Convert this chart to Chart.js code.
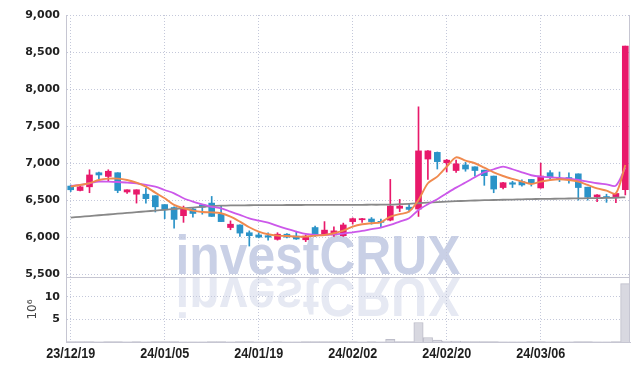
<!DOCTYPE html>
<html lang="ko">
<head>
  <meta charset="UTF-8" />
  <title>investCRUX candle chart</title>
  <script src="https://cdn.jsdelivr.net/npm/chart.js"></script>
  <style>
    body { margin: 0; background: #fff; }
    canvas { display: block; }
  </style>
</head>
<body>
  <canvas id="stockChart" width="639" height="371"></canvas>

  <script>
    // trading days, YY/MM/DD
    const dates = [
      '23/12/19', '23/12/20', '23/12/21', '23/12/22', '23/12/26', '23/12/27', '23/12/28',
      '24/01/02', '24/01/03', '24/01/04', '24/01/05', '24/01/08', '24/01/09', '24/01/10',
      '24/01/11', '24/01/12', '24/01/15', '24/01/16', '24/01/17', '24/01/18', '24/01/19',
      '24/01/22', '24/01/23', '24/01/24', '24/01/25', '24/01/26', '24/01/29', '24/01/30',
      '24/01/31', '24/02/01', '24/02/02', '24/02/05', '24/02/06', '24/02/07', '24/02/08',
      '24/02/13', '24/02/14', '24/02/15', '24/02/16', '24/02/19', '24/02/20', '24/02/21',
      '24/02/22', '24/02/23', '24/02/26', '24/02/27', '24/02/28', '24/02/29', '24/03/04',
      '24/03/05', '24/03/06', '24/03/07', '24/03/08', '24/03/11', '24/03/12', '24/03/13',
      '24/03/14', '24/03/15', '24/03/18', '24/03/19'
    ];
    const dateTicks = ['23/12/19', '24/01/05', '24/01/19', '24/02/02', '24/02/20', '24/03/06'];

    const opens = [
      6690, 6630, 6680, 6870, 6820, 6870, 6610, 6580, 6580, 6560,
      6440, 6400, 6290, 6380, 6435, 6460, 6310, 6130, 6165, 6060,
      6030, 6020, 5970, 6040, 6015, 5965, 6130, 6040, 6030, 6020,
      6210, 6235, 6245, 6210, 6230, 6390, 6405, 6380, 7055, 7145,
      7005, 6900, 6975, 6950, 6905, 6825, 6670, 6735, 6750, 6780,
      6665, 6870, 6795, 6805, 6855, 6675, 6545, 6545, 6535, 6640
    ];
    const highs = [
      6705, 6690, 6910, 6880, 6910, 6870, 6640, 6640, 6660, 6560,
      6440, 6410, 6420, 6390, 6440, 6550, 6420, 6220, 6165, 6085,
      6060, 6060, 6060, 6050, 6080, 6030, 6150, 6210, 6140, 6190,
      6260, 6255, 6265, 6245, 6780, 6510, 6450, 7760, 7170, 7150,
      7050, 7040, 7010, 6950, 6905, 6825, 6740, 6755, 6775, 6780,
      7000, 6900, 6880, 6870, 6855, 6675, 6575, 6580, 6595, 8580
    ];
    const lows = [
      6615, 6625, 6600, 6790, 6750, 6600, 6590, 6460, 6460, 6340,
      6250, 6120, 6200, 6270, 6310, 6280, 6210, 6100, 6010, 5880,
      5990, 5960, 5960, 5990, 5970, 5940, 6010, 6030, 6010, 6010,
      6175, 6200, 6175, 6140, 6220, 6345, 6340, 6280, 6780, 6920,
      6880, 6875, 6890, 6825, 6700, 6600, 6650, 6670, 6690, 6690,
      6660, 6780, 6750, 6730, 6500, 6500, 6480, 6470, 6465, 6570
    ];
    const closes = [
      6640, 6680, 6840, 6840, 6890, 6630, 6640, 6640, 6520, 6410,
      6370, 6240, 6390, 6320, 6405, 6280, 6210, 6175, 6055, 6020,
      6000, 6000, 6040, 6000, 5975, 6015, 6040, 6095, 6085, 6165,
      6250, 6250, 6210, 6200, 6420, 6420, 6375, 7165, 7165, 7020,
      7040, 6990, 6920, 6900, 6830, 6650, 6735, 6715, 6705, 6730,
      6825, 6810, 6780, 6775, 6670, 6540, 6570, 6535, 6590, 8580
    ];

    const maShort = [
      6682, 6705, 6728, 6772, 6790, 6790, 6772, 6737, 6682, 6601,
      6525, 6435, 6390, 6358, 6340, 6335, 6323, 6277, 6210, 6134,
      6075, 6039, 6021, 6016, 6007, 6007, 6021, 6030, 6053, 6088,
      6142, 6174, 6188, 6201, 6277, 6310, 6345, 6502, 6728, 6817,
      6952, 7078, 7033, 6998, 6939, 6876, 6826, 6786, 6750, 6718,
      6750, 6772, 6782, 6772, 6750, 6705, 6660, 6628, 6592, 6975
    ];
    const maMid = [
      6691, 6705, 6728, 6750, 6750, 6745, 6737, 6728, 6705, 6682,
      6637, 6592, 6525, 6480, 6444, 6410, 6390, 6345, 6300, 6255,
      6223, 6196, 6151, 6111, 6075, 6043, 6030, 6030, 6039, 6048,
      6066, 6084, 6107, 6129, 6165, 6210, 6255, 6367, 6445, 6512,
      6592, 6669, 6737, 6809, 6876, 6917, 6952, 6917, 6876, 6836,
      6817, 6809, 6800, 6790, 6772, 6750, 6728, 6714, 6696, 6940
    ];
    const maLong = [
      6264, 6275, 6285, 6296, 6306, 6317, 6327, 6338, 6348, 6359,
      6369, 6380, 6390, 6400, 6410, 6420, 6425, 6428, 6430, 6431,
      6432, 6433, 6433, 6434, 6434, 6435, 6435, 6435, 6436, 6436,
      6437, 6437, 6438, 6438, 6440, 6445, 6450, 6458, 6466, 6473,
      6480, 6486, 6491, 6495, 6499, 6502, 6505, 6508, 6511, 6514,
      6516, 6518, 6520, 6522, 6524, 6526, 6528, 6530, 6532, 6538
    ];

    // volume in millions of shares
    const volumes = [
      0.09, 0.07, 0.12, 0.06, 0.08, 0.10, 0.05, 0.07, 0.06, 0.08,
      0.07, 0.09, 0.06, 0.05, 0.06, 0.08, 0.07, 0.06, 0.09, 0.08,
      0.05, 0.06, 0.07, 0.05, 0.06, 0.07, 0.08, 0.09, 0.07, 0.10,
      0.08, 0.06, 0.07, 0.06, 0.60, 0.12, 0.10, 4.30, 1.00, 0.44,
      0.22, 0.20, 0.10, 0.08, 0.09, 0.07, 0.06, 0.05, 0.06, 0.07,
      0.09, 0.06, 0.05, 0.06, 0.08, 0.07, 0.05, 0.06, 0.07, 12.90
    ];

    const priceTicks = [5500, 6000, 6500, 7000, 7500, 8000, 8500, 9000];
    const volumeTicks = [5, 10];

    const UP = '#e8196b';
    const DOWN = '#2b93c8';
    const candleColors = closes.map((c, i) => c >= opens[i] ? UP : DOWN);

    const tickFont = { family: "'DejaVu Sans', sans-serif", size: 11, weight: 'bold' };

    // watermark with reflection, under the grid
    const watermark = {
      id: 'watermark',
      beforeDraw(chart) {
        const ctx = chart.ctx;
        const base = chart.scales.y.bottom - 3;
        ctx.save();
        ctx.font = "bold 56px 'Liberation Sans', sans-serif";
        ctx.textAlign = 'center';
        ctx.textBaseline = 'alphabetic';
        const sx = 285 / ctx.measureText('investCRUX').width;
        ctx.save();
        ctx.translate(318, base);
        ctx.scale(sx, 1);
        ctx.fillStyle = '#c9d0e6';
        ctx.fillText('investCRUX', 0, 0);
        ctx.restore();
        ctx.save();
        ctx.translate(318, base + 4);
        ctx.scale(sx, -1);
        ctx.fillStyle = '#e6e9f3';
        ctx.fillText('investCRUX', 0, 0);
        ctx.restore();
        ctx.restore();
      }
    };

    // panel separator, right frame and narrow date labels
    const frame = {
      id: 'frame',
      afterDraw(chart) {
        const { ctx, chartArea } = chart;
        const xs = chart.scales.x;
        const sep = chart.scales.yv.top;
        ctx.save();
        ctx.strokeStyle = '#c6c6d2';
        ctx.lineWidth = 1;
        ctx.beginPath();
        ctx.moveTo(chartArea.left, sep + 0.5);
        ctx.lineTo(chartArea.right, sep + 0.5);
        ctx.moveTo(chartArea.right - 0.5, chartArea.top);
        ctx.lineTo(chartArea.right - 0.5, chartArea.bottom);
        ctx.stroke();

        ctx.font = "bold 15px 'Liberation Sans', sans-serif";
        ctx.fillStyle = '#1e1e1e';
        ctx.textAlign = 'center';
        ctx.textBaseline = 'alphabetic';
        xs.ticks.forEach((t, i) => {
          ctx.save();
          ctx.translate(xs.getPixelForTick(i), chartArea.bottom + 16);
          ctx.scale(0.84, 1);
          ctx.fillText(dates[t.value], 0, 0);
          ctx.restore();
        });
        ctx.restore();
      }
    };

    const ctx = document.getElementById('stockChart').getContext('2d');

    new Chart(ctx, {
      type: 'bar',
      data: {
        labels: dates,
        datasets: [
          {
            type: 'line', label: 'MA short', data: maShort, yAxisID: 'y', order: 0,
            borderColor: '#f08a4e', borderWidth: 1.9, pointRadius: 0, tension: 0.3
          },
          {
            type: 'line', label: 'MA mid', data: maMid, yAxisID: 'y', order: 0,
            borderColor: '#cc58ea', borderWidth: 1.8, pointRadius: 0, tension: 0.3
          },
          {
            type: 'line', label: 'MA long', data: maLong, yAxisID: 'y', order: 0,
            borderColor: '#888888', borderWidth: 1.8, pointRadius: 0, tension: 0.3
          },
          {
            label: 'body', yAxisID: 'y', order: 1, grouped: false,
            data: opens.map((o, i) => [o, closes[i]]),
            backgroundColor: candleColors, barThickness: 6, minBarLength: 1
          },
          {
            label: 'wick', yAxisID: 'y', order: 2, grouped: false,
            data: lows.map((l, i) => [l, highs[i]]),
            backgroundColor: candleColors, barThickness: 1
          },
          {
            label: 'volume', data: volumes, yAxisID: 'yv', order: 3, grouped: false,
            backgroundColor: '#d8d8e0', borderColor: '#bdbdc9', borderWidth: 1,
            barPercentage: 1, categoryPercentage: 1
          }
        ]
      },
      options: {
        responsive: false,
        animation: false,
        devicePixelRatio: 1,
        layout: { padding: { left: 12, right: 9, top: 15, bottom: 0 } },
        plugins: { legend: { display: false }, tooltip: { enabled: false } },
        scales: {
          x: {
            offset: true,
            grid: { offset: false, color: '#c4c8da', drawTicks: false },
            border: { color: '#c6c6d2', dash: [1, 2] },
            afterBuildTicks: s => { s.ticks = s.ticks.filter(t => dateTicks.includes(dates[t.value])); },
            afterFit: s => { s.height = 29; },
            ticks: { display: false, autoSkip: false }
          },
          y: {
            position: 'left', stack: 'panels', stackWeight: 262, weight: 2,
            min: 5462, max: 9000,
            grid: { color: '#c4c8da', drawTicks: false },
            border: { color: '#c6c6d2', dash: [1, 2] },
            afterBuildTicks: s => { s.ticks = priceTicks.map(v => ({ value: v })); },
            afterFit: s => { s.width = 54; },
            ticks: { padding: 6, color: '#222', font: tickFont, callback: v => v.toLocaleString('en-US') }
          },
          yv: {
            position: 'left', stack: 'panels', stackWeight: 65, weight: 1,
            min: 0, max: 14.35,
            grid: { color: '#c4c8da', drawTicks: false },
            border: { color: '#c6c6d2', dash: [1, 2] },
            afterBuildTicks: s => { s.ticks = volumeTicks.map(v => ({ value: v })); },
            afterFit: s => { s.width = 54; },
            title: { display: true, text: '10⁶', color: '#444', font: { family: "'DejaVu Sans', sans-serif", size: 12 }, padding: { top: 14, bottom: 0 } },
            ticks: { padding: 6, color: '#222', font: tickFont }
          }
        }
      },
      plugins: [watermark, frame]
    });
  </script>
</body>
</html>
